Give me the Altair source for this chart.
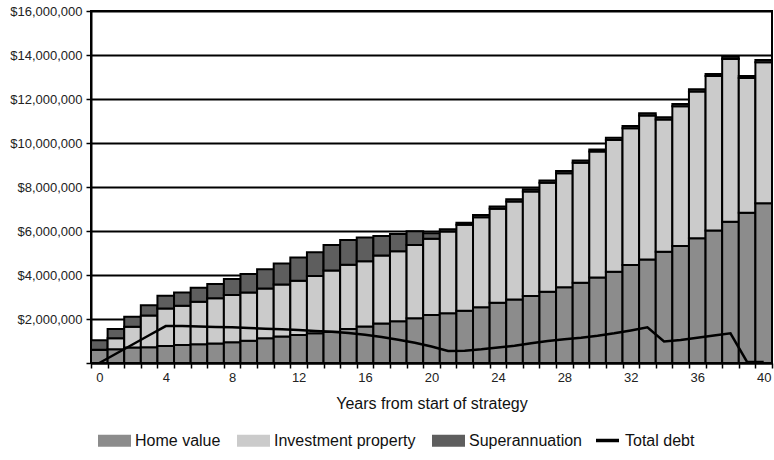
import altair as alt
import pandas as pd

# Years from the start of the strategy (0..40)
years = list(range(41))

# Values in $ millions
home_value = [0.60, 0.62, 0.70, 0.72, 0.77, 0.82, 0.85, 0.89, 0.94, 1.01,
              1.12, 1.20, 1.27, 1.35, 1.42, 1.55, 1.66, 1.79, 1.90, 2.03,
              2.18, 2.26, 2.38, 2.53, 2.74, 2.89, 3.05, 3.24, 3.44, 3.65,
              3.89, 4.15, 4.45, 4.71, 5.06, 5.32, 5.67, 6.02, 6.42, 6.83,
              7.26]
investment_property = [0.00, 0.50, 0.95, 1.44, 1.71, 1.78, 1.93, 2.05, 2.15, 2.20,
                       2.27, 2.37, 2.47, 2.60, 2.79, 2.92, 2.96, 3.10, 3.18, 3.33,
                       3.47, 3.72, 3.90, 4.10, 4.27, 4.45, 4.75, 4.95, 5.19, 5.45,
                       5.72, 5.99, 6.22, 6.54, 6.01, 6.35, 6.67, 7.02, 7.40, 6.12,
                       6.41]
superannuation = [0.43, 0.43, 0.45, 0.47, 0.58, 0.60, 0.64, 0.65, 0.73, 0.84,
                  0.87, 0.95, 1.06, 1.08, 1.15, 1.12, 1.08, 0.88, 0.78, 0.63,
                  0.25, 0.10, 0.10, 0.10, 0.10, 0.10, 0.10, 0.10, 0.10, 0.10,
                  0.10, 0.10, 0.10, 0.10, 0.10, 0.10, 0.10, 0.10, 0.10, 0.10,
                  0.10]
total_debt = [0.00, 0.42, 0.84, 1.26, 1.68, 1.68, 1.66, 1.64, 1.62, 1.59,
              1.56, 1.53, 1.50, 1.46, 1.42, 1.36, 1.28, 1.18, 1.06, 0.92,
              0.75, 0.55, 0.56, 0.62, 0.70, 0.78, 0.90, 1.00, 1.08, 1.15,
              1.24, 1.35, 1.48, 1.62, 0.98, 1.05, 1.15, 1.25, 1.35, 0.05,
              0.05]

series_names = ["Home value", "Investment property", "Superannuation"]
series_colors = ["#8c8c8c", "#cbcbcb", "#5e5e5e"]
y_ticks = [0, 2e6, 4e6, 6e6, 8e6, 10e6, 12e6, 14e6, 16e6]

FONT = "Liberation Sans"

rows = []
for i, yr in enumerate(years):
    for k, (name, vals) in enumerate(zip(series_names,
                                         [home_value, investment_property, superannuation])):
        rows.append({"year": yr, "series": name, "order": k, "value": vals[i] * 1e6})
bars_df = pd.DataFrame(rows)

debt_df = pd.DataFrame({
    "year": years,
    "debt": [v * 1e6 for v in total_debt],
    "series": ["Total debt"] * len(years),
})

x_enc = alt.X(
    "year:O",
    scale=alt.Scale(paddingInner=0, paddingOuter=0),
    axis=alt.Axis(
        title="Years from start of strategy",
        labelExpr="datum.value % 4 == 0 ? datum.label : ''",
        labelAngle=0,
        labelFont=FONT, labelFontSize=13, labelColor="#222",
        labelPadding=3,
        tickBand="extent", tickSize=5, tickColor="black", tickWidth=1.5,
        domainColor="black", domainWidth=2,
        titleFont=FONT, titleFontSize=16, titleFontWeight="normal",
        titleColor="#111", titlePadding=11,
    ),
)

bars = alt.Chart(bars_df).mark_bar(stroke="black", strokeWidth=2).encode(
    x=x_enc,
    y=alt.Y(
        "value:Q",
        stack="zero",
        scale=alt.Scale(domain=[0, 16e6], nice=False),
        axis=alt.Axis(
            title=None,
            values=y_ticks,
            format="$,.0f",
            labelExpr="datum.value == 0 ? '' : datum.label",
            labelFont=FONT, labelFontSize=13, labelColor="#222",
            labelPadding=4,
            tickSize=5, tickColor="black", tickWidth=1.5,
            domainColor="black", domainWidth=2,
            grid=True, gridColor="black", gridWidth=2,
        ),
    ),
    color=alt.Color(
        "series:N",
        scale=alt.Scale(domain=series_names, range=series_colors),
        legend=alt.Legend(
            title=None, orient="none", legendX=7, legendY=413,
            direction="horizontal", columns=3,
            symbolType="M-1,-0.36H1V0.36H-1Z", symbolSize=1089,
            symbolStrokeWidth=0, symbolOpacity=1,
            labelFont=FONT, labelFontSize=16, labelColor="#111",
            labelOffset=4, columnPadding=16, padding=0,
        ),
    ),
    order=alt.Order("order:Q", sort="ascending"),
)

debt = alt.Chart(debt_df).mark_line(strokeWidth=2.5).encode(
    x=alt.X("year:O"),
    y=alt.Y("debt:Q"),
    stroke=alt.Stroke(
        "series:N",
        scale=alt.Scale(domain=["Total debt"], range=["black"]),
        legend=alt.Legend(
            title=None, orient="none", legendX=503, legendY=416,
            symbolType="stroke", symbolSize=529, symbolStrokeWidth=3.5,
            labelFont=FONT, labelFontSize=16, labelColor="#111",
            labelOffset=4, padding=0,
        ),
    ),
)

chart = (
    alt.layer(bars, debt)
    .resolve_scale(color="independent", stroke="independent")
    .properties(
        width=681,
        height=352,
        autosize=alt.AutoSizeParams(type="none"),
        padding={"left": 91, "top": 11, "right": 2, "bottom": 97},
        background="white",
    )
    .configure_view(stroke="black", strokeWidth=2)
)

chart.save("out.html", embed_options={"renderer": "svg", "actions": False})
